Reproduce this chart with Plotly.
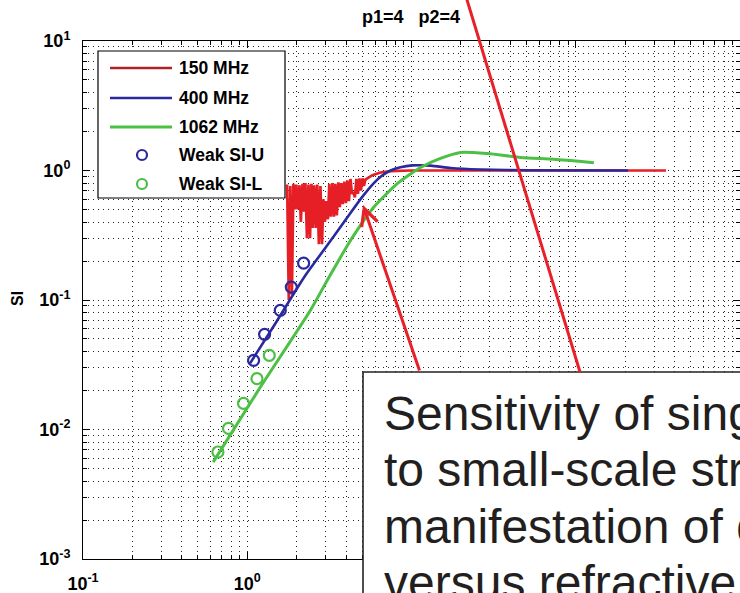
import plotly.graph_objects as go

# ---- data -------------------------------------------------------------
# 150 MHz: strongly fluctuating single-frequency SI, then saturating at 1
f150_x = [1.75, 1.79, 1.83, 1.87, 1.91, 1.95, 1.99, 2.03, 2.08, 2.12, 2.17, 2.21,
          2.26, 2.31, 2.36, 2.41, 2.46, 2.51, 2.56, 2.62, 2.67, 2.73, 2.79, 2.85,
          2.91, 2.97, 3.03, 3.10, 3.16, 3.23, 3.30, 3.37, 3.44, 3.51, 3.59, 3.66,
          3.74, 3.82, 3.90, 3.99, 4.07, 4.16, 4.25, 4.34, 4.43, 4.52, 4.62, 4.72,
          4.82, 4.92, 5.03, 5.13, 5.24, 5.78, 6.47, 7.45, 9.9, 20, 50, 120, 354]
f150_y = [0.78, 0.10, 0.76, 0.11, 0.79, 0.50, 0.78, 0.50, 0.77, 0.40, 0.79, 0.48,
          0.80, 0.30, 0.78, 0.30, 0.79, 0.36, 0.77, 0.36, 0.78, 0.27, 0.76, 0.27,
          0.60, 0.40, 0.58, 0.42, 0.79, 0.44, 0.80, 0.44, 0.79, 0.45, 0.81, 0.52,
          0.80, 0.55, 0.82, 0.56, 0.84, 0.58, 0.86, 0.66, 0.68, 0.62, 0.86, 0.66,
          0.87, 0.70, 0.87, 0.76, 0.85, 0.92, 0.965, 0.99, 1.0, 1.0, 1.0, 1.0, 1.0]

# 400 MHz
f400_x = [1.04, 1.5, 2.26, 3.0, 4.0, 5.0, 5.9, 6.6, 7.45, 8.57, 10.1, 13.1, 17.3,
          26.3, 53, 208]
f400_y = [0.0324, 0.0674, 0.155, 0.254, 0.422, 0.623, 0.80, 0.91, 1.0, 1.06, 1.095,
          1.09, 1.045, 1.018, 1.005, 1.0]

# 1062 MHz
f1062_x = [0.62, 1.2, 2.42, 3.12, 4.25, 5.87, 8.22, 11.35, 15.0, 19.9, 29.1, 46.2,
           73.4, 129]
f1062_y = [0.0056, 0.0212, 0.083, 0.147, 0.288, 0.518, 0.794, 1.055, 1.24, 1.38,
           1.35, 1.26, 1.22, 1.15]

# weak-scatter theory points
weak_u_x = [1.093, 1.275, 1.589, 1.855, 2.204]
weak_u_y = [0.0342, 0.0543, 0.0831, 0.1258, 0.1926]
weak_l_x = [0.663, 0.769, 0.949, 1.146, 1.362]
weak_l_y = [0.0067, 0.0102, 0.0159, 0.0247, 0.0374]

x_tickvals = [0.1, 1, 10, 100, 1000]
x_ticktext = ["10<sup>-1</sup>", "10<sup>0</sup>", "10<sup>1</sup>",
              "10<sup>2</sup>", "10<sup>3</sup>"]
y_tickvals = [0.001, 0.01, 0.1, 1, 10]
y_ticktext = ["10<sup>-3</sup>", "10<sup>-2</sup>", "10<sup>-1</sup>",
              "10<sup>0</sup>", "10<sup>1</sup>"]

legend_labels = ["150 MHz", "400 MHz", "1062 MHz", "Weak SI-U", "Weak SI-L"]
note_lines = ["Sensitivity of single-frequency SI",
              "to small-scale structure is a",
              "manifestation of diffractive",
              "versus refractive scattering"]
title_text = "p1=4\u00a0\u00a0\u00a0p2=4"

# ---- styling ------------------------------------------------------------
RED = "#E61E26"
RED_LEG = "#B0222A"
BLUE = "#2A2A9E"
GREEN = "#4CBF45"
ARROW = "#E8202A"
W, H = 740, 593
L, R, T, B = 83, 0, 41, 34
PW, PH = W - L - R, H - T - B
AXFONT = dict(family="Liberation Sans, Arial", size=18, color="black", weight="bold")


def px(x):
    return (x - L) / PW


def py(y):
    return (H - B - y) / PH


minor_x = [m * 10 ** e for e in range(-1, 3) for m in range(2, 10)]
minor_y = [m * 10 ** e for e in range(-3, 1) for m in range(2, 10)]
GRID = dict(showgrid=True, gridcolor="rgba(0,0,0,0.85)", gridwidth=1, griddash="1px,4px")

fig = go.Figure()
fig.add_trace(go.Scatter(x=f150_x, y=f150_y, mode="lines", name=legend_labels[0],
                         line=dict(color=RED, width=2.7, simplify=False)))
fig.add_trace(go.Scatter(x=f400_x, y=f400_y, mode="lines", name=legend_labels[1],
                         line=dict(color=BLUE, width=2.6, shape="spline", smoothing=0.6)))
fig.add_trace(go.Scatter(x=f1062_x, y=f1062_y, mode="lines", name=legend_labels[2],
                         line=dict(color=GREEN, width=3, shape="spline", smoothing=0.6)))
fig.add_trace(go.Scatter(x=weak_u_x, y=weak_u_y, mode="markers", name=legend_labels[3],
                         marker=dict(symbol="circle-open", size=11, color=BLUE,
                                     line=dict(width=2.2, color=BLUE))))
fig.add_trace(go.Scatter(x=weak_l_x, y=weak_l_y, mode="markers", name=legend_labels[4],
                         marker=dict(symbol="circle-open", size=11, color=GREEN,
                                     line=dict(width=2.2, color=GREEN))))

axis_common = dict(type="log", showline=True, linecolor="black", linewidth=1,
                   mirror="allticks", ticks="inside", ticklen=7, tickwidth=1,
                   tickcolor="black", tickmode="array", zeroline=False,
                   tickfont=AXFONT, **GRID)
fig.update_xaxes(range=[-1, 3], tickvals=x_tickvals, ticktext=x_ticktext,
                 ticklabelstandoff=8,
                 minor=dict(tickvals=minor_x, ticks="inside", ticklen=4,
                            tickcolor="black", **GRID),
                 **axis_common)
fig.update_yaxes(range=[-3, 1], tickvals=y_tickvals, ticktext=y_ticktext,
                 ticklabelstandoff=8,
                 minor=dict(tickvals=minor_y, ticks="inside", ticklen=4,
                            tickcolor="black", **GRID),
                 **axis_common)

shapes = []
annotations = []

# legend box
shapes.append(dict(type="rect", xref="paper", yref="paper", layer="above",
                   x0=px(98), x1=px(285), y0=py(198), y1=py(51),
                   fillcolor="white", line=dict(color="black", width=1.2)))
leg_rows = [68, 98, 127, 155, 184]
for yy, col in zip(leg_rows[:3], [RED_LEG, BLUE, GREEN]):
    shapes.append(dict(type="line", xref="paper", yref="paper", layer="above",
                       x0=px(110), x1=px(172), y0=py(yy), y1=py(yy),
                       line=dict(color=col, width=3 if col == GREEN else 2.4)))
for yy, col in zip(leg_rows[3:], [BLUE, GREEN]):
    shapes.append(dict(type="circle", xref="paper", yref="paper", layer="above",
                       xsizemode="pixel", ysizemode="pixel",
                       xanchor=px(142), yanchor=py(yy),
                       x0=-5, x1=5, y0=-5, y1=5,
                       line=dict(color=col, width=2.2)))
for yy, lab in zip(leg_rows, legend_labels):
    annotations.append(dict(xref="paper", yref="paper", x=px(177), y=py(yy),
                            xanchor="left", yanchor="middle", showarrow=False,
                            text=lab, font=dict(family="Liberation Sans, Arial",
                                                size=17.5, color="black", weight="bold")))

# note box overlay
shapes.append(dict(type="rect", xref="paper", yref="paper", layer="above",
                   x0=px(363), x1=px(800), y0=py(650), y1=py(372),
                   fillcolor="white", line=dict(color="#222", width=1.6)))
shapes.append(dict(type="line", xref="paper", yref="paper", layer="above",
                   x0=px(580), y0=py(372), x1=px(464), y1=py(-10),
                   line=dict(color=ARROW, width=3)))
annotations.append(dict(xref="paper", yref="paper", x=px(363), y=py(205),
                        ax=57, ay=167, axref="pixel", ayref="pixel",
                        text="", showarrow=True, arrowhead=5, arrowsize=1.1,
                        arrowwidth=3, arrowcolor=ARROW, standoff=0))
for i, line in enumerate(note_lines):
    annotations.append(dict(xref="paper", yref="paper", x=px(382),
                            y=py(413 + 56.5 * i), xanchor="left", yanchor="middle",
                            showarrow=False, text=line,
                            font=dict(family="Liberation Sans, Arial", size=48,
                                      color="#231F20")))

# title and y label
annotations.append(dict(xref="paper", yref="paper", x=px(411), y=py(17),
                        xanchor="center", yanchor="middle", showarrow=False,
                        text=title_text,
                        font=dict(family="Liberation Sans, Arial", size=18,
                                  color="black", weight="bold")))
annotations.append(dict(xref="paper", yref="paper", x=px(17), y=py(299),
                        xanchor="center", yanchor="middle", showarrow=False,
                        text="SI", textangle=-90,
                        font=dict(family="Liberation Sans, Arial", size=16,
                                  color="black", weight="bold")))

fig.update_layout(width=W, height=H, margin=dict(l=L, r=R, t=T, b=B),
                  paper_bgcolor="white", plot_bgcolor="white", showlegend=False,
                  shapes=shapes, annotations=annotations)

fig.write_html("out.html")
